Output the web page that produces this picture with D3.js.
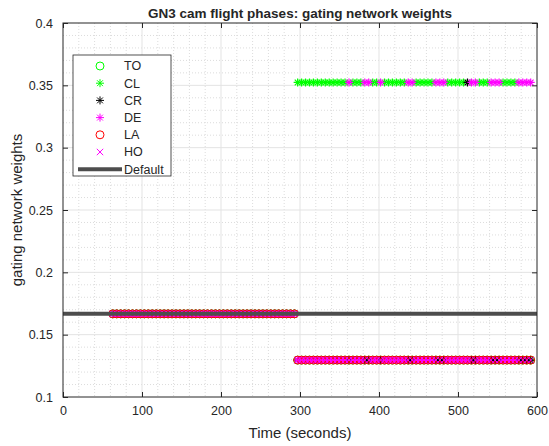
<!DOCTYPE html>
<html>
<head>
<meta charset="utf-8">
<script src="https://cdn.jsdelivr.net/npm/d3@7"></script>
<style>
  body { margin: 0; background: #fff; }
  text { font-family: 'Liberation Sans', Arial, sans-serif; fill: #262626; }
</style>
</head>
<body>
<div id="root"></div>
<script>
// flight phases, in the order they are plotted (later ones sit on top)
const phases = ['TO', 'CL', 'CR', 'DE', 'LA', 'HO']

// first part of the flight: gating weights all equal
const uniformTimes = [63, 68, 73, 78, 83, 88, 93, 98, 103, 108, 113, 118, 123, 128, 133, 138,
  143, 148, 153, 158, 163, 168, 173, 178, 183, 188, 193, 198, 203, 208, 213, 218, 223, 228,
  233, 238, 243, 248, 253, 258, 263, 268, 273, 278, 283, 288, 293]
const uniformWeight = 0.1667

// second part: one phase wins, the other five share the rest
const splitTimes = [297, 302, 307, 312, 317, 322, 327, 332, 337, 342, 347, 352, 357, 362, 367,
  372, 377, 382, 387, 392, 397, 402, 407, 412, 417, 422, 427, 432, 437, 442, 447, 452, 457,
  462, 467, 472, 477, 482, 487, 492, 497, 502, 507, 512, 517, 522, 527, 532, 537, 542, 547,
  552, 557, 562, 567, 572, 577, 582, 587, 592]
const splitWinner = ['CL', 'CL', 'CL', 'CL', 'CL', 'CL', 'CL', 'CL', 'CL', 'CL', 'CL', 'CL', 'CL',
  'DE', 'CL', 'CL', 'CL', 'DE', 'DE', 'CL', 'CL', 'DE', 'CL', 'CL', 'CL', 'CL', 'CL', 'CL',
  'DE', 'DE', 'CL', 'CL', 'CL', 'CL', 'CL', 'DE', 'DE', 'DE', 'CL', 'CL', 'CL', 'CL', 'CL',
  'CR', 'DE', 'DE', 'CL', 'CL', 'CL', 'DE', 'DE', 'DE', 'CL', 'CL', 'CL', 'CL', 'DE', 'DE',
  'DE', 'DE']
const winWeight = 0.3523
const loseWeight = 0.1296

const defaultWeight = 0.1667

const xTicks = [0, 100, 200, 300, 400, 500, 600]
const yTicks = [0.1, 0.15, 0.2, 0.25, 0.3, 0.35, 0.4]

const markerStyle = {
  TO: { shape: 'circle', color: '#00ff00' },
  CL: { shape: 'star', color: '#00ff00' },
  CR: { shape: 'star', color: '#000000' },
  DE: { shape: 'star', color: '#ff00ff' },
  LA: { shape: 'circle', color: '#ff0000' },
  HO: { shape: 'x', color: '#ff00ff' }
}

const dimensions = {
  width: 549,
  height: 446,
  margin: { top: 23, right: 12, bottom: 49, left: 63 }
}
const innerW = dimensions.width - dimensions.margin.left - dimensions.margin.right
const innerH = dimensions.height - dimensions.margin.top - dimensions.margin.bottom

const xScale = d3.scaleLinear().domain([0, 600]).range([0, innerW])
const yScale = d3.scaleLinear().domain([0.1, 0.4]).range([innerH, 0])

function markerPath (shape) {
  if (shape === 'circle') {
    const r = 4
    return `M${-r},0A${r},${r} 0 1,0 ${r},0A${r},${r} 0 1,0 ${-r},0Z`
  }
  if (shape === 'x') {
    const s = 3.2
    return `M${-s},${-s}L${s},${s}M${-s},${s}L${s},${-s}`
  }
  const r = 4
  const d = 2.9
  return `M0,${-r}L0,${r}M${-r},0L${r},0M${-d},${-d}L${d},${d}M${-d},${d}L${d},${-d}`
}

function seriesFor (phase) {
  const a = uniformTimes.map(t => ({ t, w: uniformWeight }))
  const b = splitTimes.map((t, i) => ({ t, w: splitWinner[i] === phase ? winWeight : loseWeight }))
  return a.concat(b)
}

const svg = d3.select('#root').append('svg')
  .attr('width', dimensions.width)
  .attr('height', dimensions.height)

svg.append('text')
  .text('GN3 cam flight phases: gating network weights')
  .attr('x', dimensions.margin.left + innerW / 2)
  .attr('y', 18)
  .attr('text-anchor', 'middle')
  .style('font-size', '13.5px')
  .style('font-weight', 'bold')

const bounds = svg.append('g')
  .attr('transform', `translate(${dimensions.margin.left}, ${dimensions.margin.top})`)

bounds.append('rect')
  .attr('width', innerW)
  .attr('height', innerH)
  .attr('fill', '#fff')

// minor grid
const grid = bounds.append('g')
grid.selectAll('line.minx')
  .data(d3.range(20, 600, 20).filter(v => v % 100 !== 0))
  .join('line')
  .attr('x1', d => xScale(d)).attr('x2', d => xScale(d))
  .attr('y1', 0).attr('y2', innerH)
  .attr('stroke', '#dcdcdc').attr('stroke-dasharray', '1,2')
grid.selectAll('line.miny')
  .data(d3.range(11, 40).map(v => v / 100).filter(v => Math.round(v * 100) % 5 !== 0))
  .join('line')
  .attr('x1', 0).attr('x2', innerW)
  .attr('y1', d => yScale(d)).attr('y2', d => yScale(d))
  .attr('stroke', '#dcdcdc').attr('stroke-dasharray', '1,2')
// major grid
grid.selectAll('line.majx')
  .data(xTicks.slice(1, -1))
  .join('line')
  .attr('x1', d => xScale(d)).attr('x2', d => xScale(d))
  .attr('y1', 0).attr('y2', innerH)
  .attr('stroke', '#e3e3e3')
grid.selectAll('line.majy')
  .data(yTicks.slice(1, -1))
  .join('line')
  .attr('x1', 0).attr('x2', innerW)
  .attr('y1', d => yScale(d)).attr('y2', d => yScale(d))
  .attr('stroke', '#e3e3e3')

// markers
phases.forEach(phase => {
  const st = markerStyle[phase]
  bounds.append('g')
    .selectAll('path')
    .data(seriesFor(phase))
    .join('path')
    .attr('transform', d => `translate(${xScale(d.t)}, ${yScale(d.w)})`)
    .attr('d', markerPath(st.shape))
    .attr('fill', 'none')
    .attr('stroke', st.color)
    .attr('stroke-width', st.shape === 'star' ? 1.2 : 1)
})

// default weight line
bounds.append('line')
  .attr('x1', xScale(0)).attr('x2', xScale(600))
  .attr('y1', yScale(defaultWeight)).attr('y2', yScale(defaultWeight))
  .attr('stroke', '#4d4d4d')
  .attr('stroke-width', 4)

// axes
bounds.append('g')
  .attr('transform', `translate(0, ${innerH})`)
  .call(d3.axisBottom(xScale).tickValues(xTicks).tickSizeInner(-5).tickSizeOuter(0).tickPadding(9))
bounds.append('g')
  .call(d3.axisLeft(yScale).tickValues(yTicks).tickFormat(d3.format('~g'))
    .tickSizeInner(-5).tickSizeOuter(0).tickPadding(10))
bounds.append('g')
  .call(d3.axisTop(xScale).tickValues(xTicks).tickFormat('').tickSizeInner(-5).tickSizeOuter(0))
bounds.append('g')
  .attr('transform', `translate(${innerW}, 0)`)
  .call(d3.axisRight(yScale).tickValues(yTicks).tickFormat('').tickSizeInner(-5).tickSizeOuter(0))

bounds.selectAll('.domain').remove()
bounds.selectAll('.tick line').attr('stroke', '#262626')
bounds.selectAll('.tick text')
  .style('font-size', '12.5px')
  .attr('fill', '#262626')
  .style('font-family', "'Liberation Sans', Arial, sans-serif")

bounds.append('rect')
  .attr('width', innerW)
  .attr('height', innerH)
  .attr('fill', 'none')
  .attr('stroke', '#262626')
  .attr('stroke-width', 1)

svg.append('text')
  .text('Time (seconds)')
  .attr('x', dimensions.margin.left + innerW / 2)
  .attr('y', 438)
  .attr('text-anchor', 'middle')
  .style('font-size', '15px')

svg.append('text')
  .text('gating network weights')
  .attr('transform', `translate(22, ${dimensions.margin.top + innerH / 2}) rotate(-90)`)
  .attr('text-anchor', 'middle')
  .style('font-size', '15px')

// legend
const legend = svg.append('g')
legend.append('rect')
  .attr('x', 73).attr('y', 55)
  .attr('width', 98).attr('height', 121)
  .attr('fill', '#fff')
  .attr('stroke', '#262626')
  .attr('stroke-width', 0.8)

const legendItems = phases.concat(['Default'])
const item = legend.selectAll('g.item')
  .data(legendItems)
  .join('g')
  .attr('class', 'item')
  .attr('transform', (_d, i) => `translate(0, ${66 + i * 17.2})`)
item.filter(d => d !== 'Default').append('path')
  .attr('transform', 'translate(100, 0)')
  .attr('d', d => markerPath(markerStyle[d].shape))
  .attr('fill', 'none')
  .attr('stroke', d => markerStyle[d].color)
item.filter(d => d === 'Default').append('line')
  .attr('x1', 78).attr('x2', 122)
  .attr('stroke', '#4d4d4d')
  .attr('stroke-width', 4)
item.append('text')
  .text(d => d)
  .attr('x', 124)
  .attr('dy', '0.35em')
  .style('font-size', '12.5px')
</script>
</body>
</html>
